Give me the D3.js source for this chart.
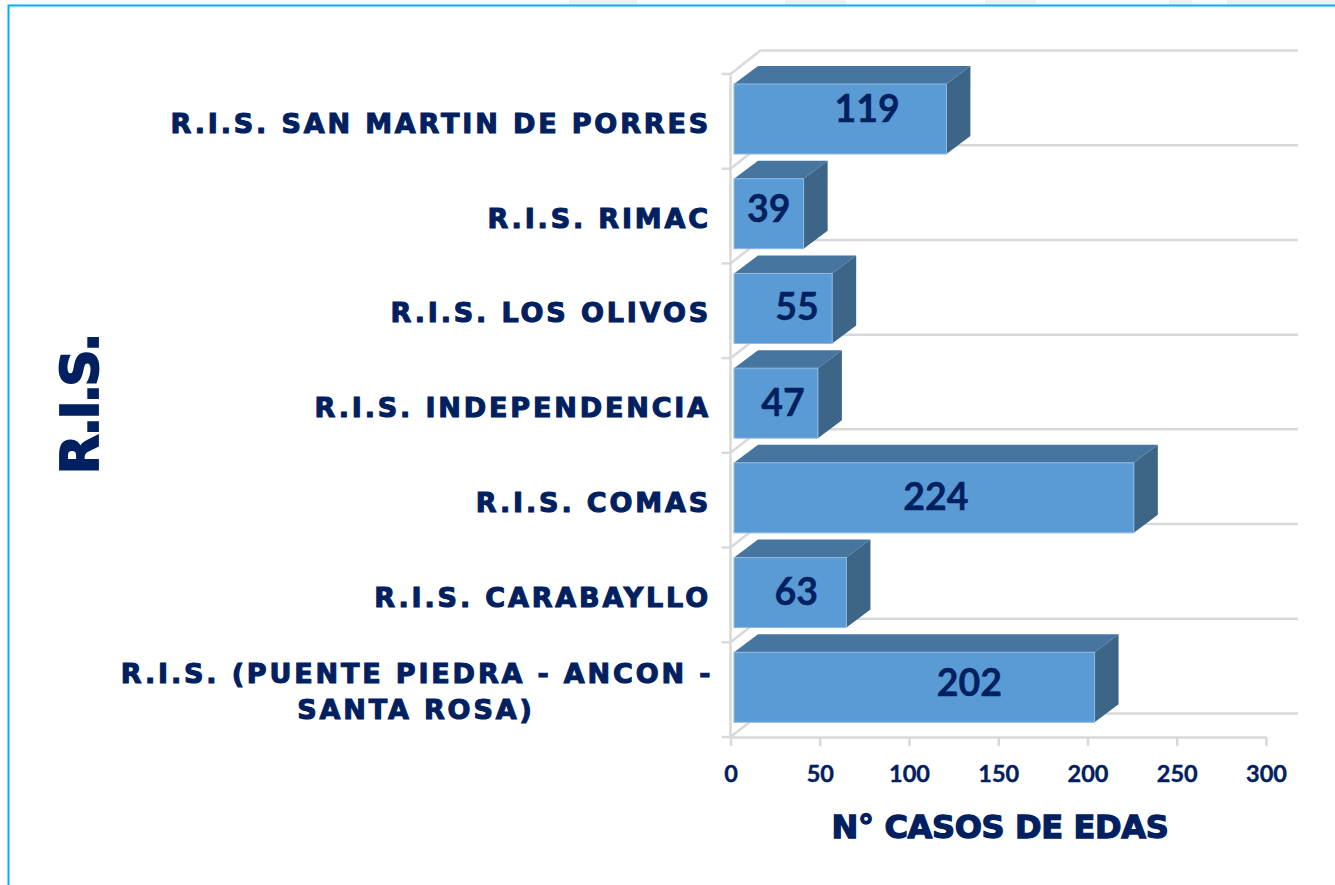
<!DOCTYPE html>
<html>
<head>
<meta charset="utf-8">
<script src="https://cdnjs.cloudflare.com/ajax/libs/d3/7.8.5/d3.min.js"></script>
<style>
html, body { margin: 0; padding: 0; background: #fff; overflow: hidden; }
svg { display: block; }
.cat, .ttl { font-family: "DejaVu Sans", sans-serif; font-weight: 700; fill: #002060; stroke: #002060; }
.num { font-family: Lato, sans-serif; font-weight: 700; fill: #002060; stroke: #002060; stroke-width: 0.4; }
</style>
</head>
<body>
<div id="vis"></div>
<script>
// bottom to top, same order as the excel sheet
var categories = [
  ["R.I.S. (PUENTE PIEDRA - ANCON -", "SANTA ROSA)"],
  ["R.I.S. CARABAYLLO"],
  ["R.I.S. COMAS"],
  ["R.I.S. INDEPENDENCIA"],
  ["R.I.S. LOS OLIVOS"],
  ["R.I.S. RIMAC"],
  ["R.I.S. SAN MARTIN DE PORRES"]
];
var values = [202, 63, 224, 47, 55, 39, 119];
var xTicks = [0, 50, 100, 150, 200, 250, 300];

var width = 1335;
var height = 885;

var navy = "#002060";
var gridColor = "#d9d9d9";

var chart = d3.select("#vis").append("svg")
  .attr("width", width)
  .attr("height", height);

// grey leftovers of the slide above the frame
[[569, 68], [785, 61], [985, 51], [1169, 23], [1227, 108]].forEach(function(s){
  chart.append("rect")
    .attr("x", s[0]).attr("y", 0)
    .attr("width", s[1]).attr("height", 5)
    .attr("fill", "#f0f0f0");
});

// frame, only top and left show in the picture
chart.append("path")
  .attr("d", "M8.5,885V5.5H1335")
  .attr("fill", "none")
  .attr("stroke", "#00b0f0")
  .attr("stroke-width", 2);

var x = d3.scaleLinear().domain([0, 300]).range([730.5, 1266]);
var y = d3.scaleBand().domain(d3.range(categories.length)).range([737, 74]);

// depth of the 3d box
var wallDx = 30, wallDy = -23.5;
var barDx = 24, barDy = -18;
var frontDx = 3.5;
var barTop = 10, barH = 70;

var grid = chart.append("g")
  .attr("stroke", gridColor)
  .attr("stroke-width", 2.5)
  .attr("fill", "none");

// back wall lines and the slanted bit at each tick
d3.range(categories.length + 1).forEach(function(i){
  var yy = i == categories.length ? y(i - 1) : y(i) + y.step();
  grid.append("line")
    .attr("x1", x(0) + wallDx).attr("x2", 1298)
    .attr("y1", yy + wallDy).attr("y2", yy + wallDy);
  grid.append("line")
    .attr("x1", x(0)).attr("x2", x(0) + wallDx)
    .attr("y1", yy).attr("y2", yy + wallDy);
  grid.append("line")
    .attr("x1", x(0) - 9).attr("x2", x(0))
    .attr("y1", yy).attr("y2", yy);
});

grid.append("line")
  .attr("x1", x(0)).attr("x2", x(0))
  .attr("y1", y(categories.length - 1)).attr("y2", 737);

var xAxis = d3.axisBottom(x).tickValues(xTicks).tickSize(9).tickSizeOuter(0).tickPadding(19);
var axisG = chart.append("g")
  .attr("transform", "translate(0,737)")
  .call(xAxis);
axisG.select(".domain").attr("stroke", gridColor).attr("stroke-width", 2.5);
axisG.selectAll(".tick line").attr("stroke", gridColor).attr("stroke-width", 2.5);
axisG.selectAll(".tick text")
  .attr("class", "num")
  .style("font-size", "23.5px")
  .attr("fill", navy);

var bars = chart.selectAll(".bar")
  .data(values)
  .enter().append("g")
  .attr("class", "bar")
  .attr("transform", function(d, i){
    return "translate(" + (x(0) + frontDx) + "," + (y(i) + barTop) + ")";
  });

function w(d){ return x(d) - x(0); }

// top face
bars.append("path")
  .attr("fill", "#4676a0")
  .attr("d", function(d){
    return "M0,0L" + barDx + "," + barDy + "H" + (w(d) + barDx) + "L" + w(d) + ",0Z";
  });
// side face
bars.append("path")
  .attr("fill", "#3c6588")
  .attr("d", function(d){
    return "M" + w(d) + ",0L" + (w(d) + barDx) + "," + barDy + "V" + (barH + barDy) + "L" + w(d) + "," + barH + "Z";
  });
bars.append("rect")
  .attr("width", w)
  .attr("height", barH)
  .attr("fill", "#5b9bd5")
  .attr("stroke", "#8fb9e2")
  .attr("stroke-width", 1);

// labels were dragged by hand in the original, so they are not centred
var labelNudgeX = [55, 6, 2, 7, 14, 0, 27];
var labelNudgeY = [6, 9, 9, 10, 9, 5, 0];
bars.append("text")
  .attr("class", "num")
  .attr("x", function(d, i){ return w(d) / 2 + labelNudgeX[i]; })
  .attr("y", function(d, i){ return 38 + labelNudgeY[i]; })
  .attr("text-anchor", "middle")
  .style("font-size", "37.5px")
  .text(function(d){ return d; });

// category labels
var catG = chart.selectAll(".catg")
  .data(categories)
  .enter().append("g")
  .attr("class", "catg");

catG.each(function(lines, i){
  var g = d3.select(this);
  var cy = y(i) + 59;
  if (lines.length == 1) {
    g.append("text")
      .attr("class", "cat")
      .attr("x", 711)
      .attr("y", cy)
      .attr("text-anchor", "end")
      .text(lines[0]);
  } else {
    g.append("text").attr("class", "cat").attr("x", 417).attr("y", cy - 18).attr("text-anchor", "middle").text(lines[0]);
    g.append("text").attr("class", "cat").attr("x", 416).attr("y", cy + 18).attr("text-anchor", "middle").text(lines[1]);
  }
});
chart.selectAll(".cat")
  .style("font-size", "27px")
  .style("letter-spacing", "2.85px")
  .attr("stroke-width", 1.1);

chart.append("text")
  .attr("class", "ttl")
  .attr("transform", "translate(98,405) rotate(-90)")
  .attr("text-anchor", "middle")
  .style("font-size", "52px")
  .style("letter-spacing", "-3px")
  .attr("stroke-width", 1.8)
  .text("R.I.S.");

chart.append("text")
  .attr("class", "ttl")
  .attr("x", 1000)
  .attr("y", 838)
  .attr("text-anchor", "middle")
  .style("font-size", "32px")
  .style("letter-spacing", "-0.35px")
  .attr("stroke-width", 1.3)
  .text("N° CASOS DE EDAS");
</script>
</body>
</html>
